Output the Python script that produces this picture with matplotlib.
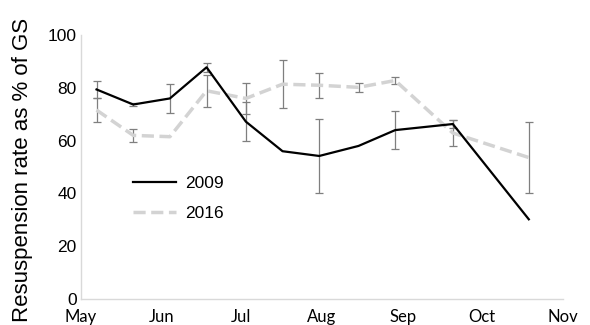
import numpy as np
import matplotlib
matplotlib.use("Agg")
import matplotlib.pyplot as plt

# sampling dates (same for both years, plotted on one season axis)
dates = ["05-07", "05-21", "06-04", "06-18", "07-03", "07-17",
         "07-31", "08-15", "08-29", "09-20", "10-19"]
vals_2009 = [79.4, 73.7, 76, 87.8, 67.2, 56, 54.2, 58, 64, 66.3, 30.2]
err_2009 = [3.3, 0.5, 5.4, 1.6, 7.5, np.nan, 14, np.nan, 7.3, 1.5, np.nan]
vals_2016 = [71.6, 62, 61.5, 78.9, 76, 81.4, 81, 80.2, 82.8, 62.9, 53.6]
err_2016 = [4.5, 2.4, np.nan, 6.1, 5.8, 9.1, 4.7, 1.6, 1.2, 4.8, 13.5]
months = ["May", "Jun", "Jul", "Aug", "Sep", "Oct", "Nov"]

def main():
    x = np.array(["2000-" + d for d in dates], dtype="datetime64[D]")
    mticks = np.array(["2000-%02d-01" % m for m in range(5, 12)], dtype="datetime64[D]")

    fig = plt.figure(figsize=(5.9, 3.25), dpi=100)
    ax = fig.add_axes([0.137, 0.08, 0.817, 0.812])

    ax.errorbar(x, vals_2009, yerr=err_2009, fmt="none", ecolor="#7f7f7f",
                elinewidth=0.9, capsize=3, capthick=0.9, zorder=1)
    ax.errorbar(x, vals_2016, yerr=err_2016, fmt="none", ecolor="#7f7f7f",
                elinewidth=0.9, capsize=3, capthick=0.9, zorder=1)
    ax.plot(x, vals_2009, color="black", lw=1.6, label="2009", zorder=3)
    ax.plot(x, vals_2016, color="#d3d3d3", lw=2.5, ls=(0, (3.5, 1.6)),
            label="2016", zorder=2)

    ax.set_xlim(mticks[0], mticks[-1])
    ax.set_ylim(0, 100)
    ax.set_xticks(mticks)
    ax.set_xticklabels(months, family="Lato", fontsize=12)
    ax.set_yticks(range(0, 101, 20))
    ax.set_yticklabels([str(v) for v in range(0, 101, 20)],
                       family="Liberation Sans", fontsize=12.5)
    ax.tick_params(axis="y", length=0, pad=3)
    ax.tick_params(axis="x", length=0, pad=7)

    for s in ["top", "right"]:
        ax.spines[s].set_visible(False)
    for s in ["left", "bottom"]:
        ax.spines[s].set_color("#d9d9d9")
        ax.spines[s].set_linewidth(1)

    ax.set_ylabel("Resuspension rate as % of GS", family="Liberation Sans",
                  fontsize=16)
    ax.yaxis.set_label_coords(-0.1, 0.49)

    ax.legend(loc="center left", bbox_to_anchor=(0.075, 0.38), frameon=False,
              prop={"family": "Liberation Sans", "size": 12.5}, handlelength=2.5,
              labelspacing=0.85, handletextpad=0.5)

    fig.savefig("out.png", dpi=100)

main()
